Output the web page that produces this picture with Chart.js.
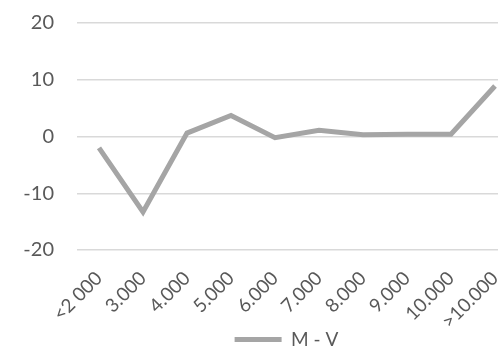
<!DOCTYPE html>
<html>
<head>
<meta charset="utf-8">
<script src="https://cdn.jsdelivr.net/npm/chart.js@4/dist/chart.umd.min.js"></script>
<style>
  html, body { margin: 0; padding: 0; background: #fff; overflow: hidden; }
  #wrap { width: 498px; height: 348px; overflow: hidden; }
</style>
</head>
<body>
<div id="wrap"><canvas id="chart" width="572" height="348"></canvas></div>
<script>
// data
var categories = ['<2 000', '3.000', '4.000', '5.000', '6.000', '7.000', '8.000', '9.000', '10.000', '>10.000'];
var seriesName = 'M - V';
var values = [-2.0, -13.3, 0.6, 3.7, -0.2, 1.1, 0.3, 0.4, 0.4, 8.9];
var yMin = -20, yMax = 20, yStep = 10;

var textColor = '#595959';
var lineColor = '#a5a5a5';

// move the legend so it sits where the original one is
var legendShift = {
    id: 'legendShift',
    afterLayout: function (chart) {
        chart.legend.left += 28;
        chart.legend.right += 28;
    }
};

var ctx = document.getElementById('chart').getContext('2d');
var chart = new Chart(ctx, {
    type: 'line',
    data: {
        labels: categories,
        datasets: [{
            label: seriesName,
            data: values,
            borderColor: lineColor,
            backgroundColor: lineColor,
            borderWidth: 5,
            pointRadius: 0,
            tension: 0,
            borderJoinStyle: 'miter'
        }]
    },
    options: {
        responsive: false,
        animation: false,
        layout: { padding: { left: 0, right: 55, top: 23, bottom: -11 } },
        plugins: {
            legend: {
                position: 'bottom',
                labels: {
                    usePointStyle: true,
                    pointStyle: 'line',
                    pointStyleWidth: 47,
                    padding: 4,
                    color: textColor,
                    font: { family: 'Lato', size: 19 }
                }
            },
            tooltip: { enabled: false }
        },
        scales: {
            x: {
                offset: true,
                afterFit: function (s) { s.height = 76; },
                grid: { display: false },
                border: { display: false },
                ticks: {
                    autoSkip: false,
                    maxRotation: 45,
                    minRotation: 45,
                    padding: 9,
                    color: textColor,
                    font: { family: 'Lato', size: 19 }
                }
            },
            y: {
                min: yMin,
                max: yMax,
                afterFit: function (s) {
                    s.width = 77;
                    s.paddingTop = 0;
                    s.paddingBottom = 0;
                },
                grid: { color: '#d9d9d9', lineWidth: 1.5, drawTicks: false },
                border: { display: false },
                ticks: {
                    stepSize: yStep,
                    padding: 23,
                    color: textColor,
                    font: { family: 'Lato', size: 20 }
                }
            }
        }
    },
    plugins: [legendShift]
});
</script>
</body>
</html>
